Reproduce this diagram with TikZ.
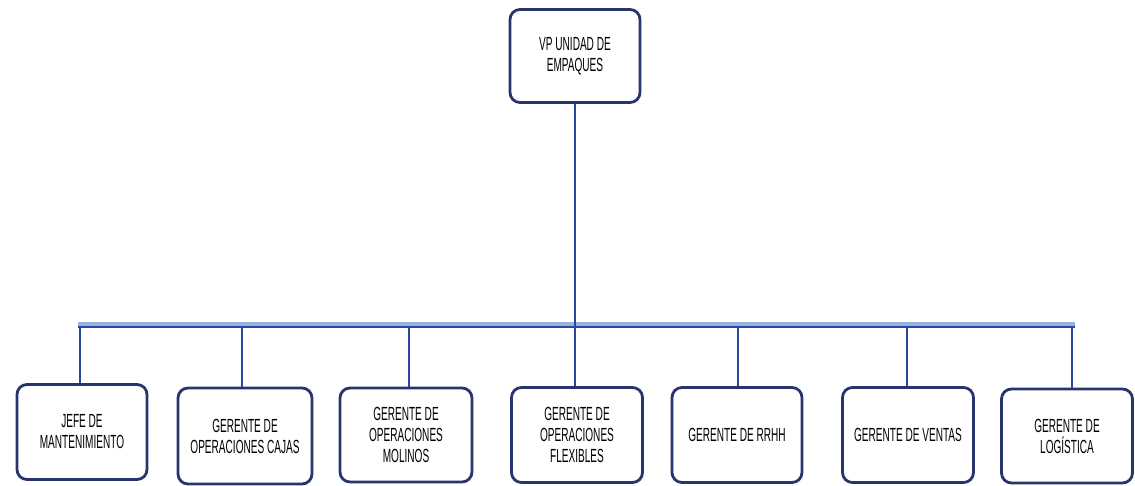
\documentclass[tikz,border=0pt]{standalone}
\usepackage{fontspec}
\setmainfont{Liberation Sans}[FakeStretch=0.53]
\begin{document}
\begin{tikzpicture}[x=1pt,y=-1pt,
  box/.style={draw=boxnavy,line width=2.8pt,rounded corners=10pt,fill=white,
    align=center,font=\fontsize{19}{21}\selectfont,inner sep=0pt},
  link/.style={draw=linkblue,line width=2.4pt}]
\definecolor{boxnavy}{RGB}{40,52,110}
\definecolor{linkblue}{RGB}{40,72,160}
\definecolor{barlight}{RGB}{150,180,220}
\useasboundingbox (0,0) rectangle (1135,486);
\node[box,minimum width=130pt,minimum height=93pt] (vp) at (575,56) {VP UNIDAD DE\\EMPAQUES};
\node[box,minimum width=130pt,minimum height=95pt] (b1) at (82,432) {JEFE DE\\MANTENIMIENTO};
\node[box,minimum width=134pt,minimum height=96pt] (b2) at (245,436) {GERENTE DE\\OPERACIONES CAJAS};
\node[box,minimum width=132pt,minimum height=94pt] (b3) at (406,435) {GERENTE DE\\OPERACIONES\\MOLINOS};
\node[box,minimum width=131pt,minimum height=95pt] (b4) at (577,435) {GERENTE DE\\OPERACIONES\\FLEXIBLES};
\node[box,minimum width=130pt,minimum height=95pt] (b5) at (737,435) {GERENTE DE RRHH};
\node[box,minimum width=131pt,minimum height=95pt] (b6) at (908,435) {GERENTE DE VENTAS};
\node[box,minimum width=131pt,minimum height=94pt] (b7) at (1067,436) {GERENTE DE\\LOGÍSTICA};
\coordinate (bl) at (78,327);
\coordinate (br) at (1075,327);
\draw[barlight,line width=3.5pt] ([yshift=3pt]bl) -- ([yshift=3pt]br);
\draw[linkblue,line width=2.8pt] (bl) -- (br);
\coordinate (c1) at (80,327);
\coordinate (c2) at (242,327);
\coordinate (c3) at (409,327);
\coordinate (c4) at (575,327);
\coordinate (c5) at (738,327);
\coordinate (c6) at (907,327);
\coordinate (c7) at (1072,327);
\draw[link] (vp.south) -- (c4);
\draw[link] (c1) -- (c1 |- b1.north);
\draw[link] (c2) -- (c2 |- b2.north);
\draw[link] (c3) -- (c3 |- b3.north);
\draw[link] (c4) -- (c4 |- b4.north);
\draw[link] (c5) -- (c5 |- b5.north);
\draw[link] (c6) -- (c6 |- b6.north);
\draw[link] (c7) -- (c7 |- b7.north);
\end{tikzpicture}
\end{document}
